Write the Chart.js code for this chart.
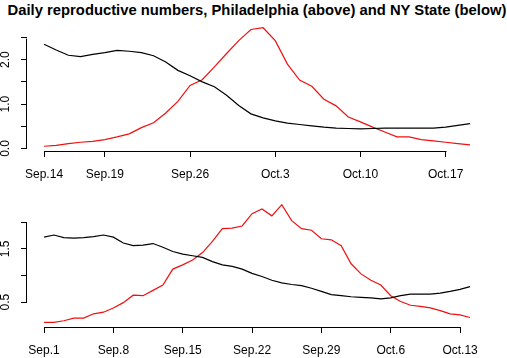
<!DOCTYPE html>
<html>
<head>
<meta charset="utf-8">
<script src="https://cdn.jsdelivr.net/npm/chart.js@4.4.1/dist/chart.umd.min.js"></script>
<style>
body{margin:0;background:#fff;width:507px;height:358px;overflow:hidden;position:relative;font-family:"Liberation Sans",Arial,sans-serif;}
#title{position:absolute;left:0;width:514px;top:2px;text-align:center;font-weight:bold;font-size:14.8px;color:#000;white-space:nowrap;}
canvas{position:absolute;left:0;}
#top{top:0;}
#bottom{top:180px;}
</style>
</head>
<body>
<div id="title">Daily reproductive numbers, Philadelphia (above) and NY State (below)</div>
<canvas id="top" width="507" height="195"></canvas>
<canvas id="bottom" width="507" height="178"></canvas>
<script>
// Philadelphia, daily from Sep.14
var phillyR1 = [2.35,2.22,2.10,2.07,2.12,2.16,2.21,2.19,2.16,2.09,1.95,1.76,1.64,1.50,1.39,1.20,0.97,0.78,0.69,0.62,0.57,0.54,0.51,0.48,0.46,0.45,0.44,0.45,0.46,0.46,0.46,0.46,0.46,0.48,0.52,0.56];
var phillyR2 = [0.05,0.07,0.11,0.14,0.16,0.20,0.26,0.33,0.47,0.58,0.80,1.06,1.42,1.55,1.84,2.14,2.43,2.68,2.72,2.43,1.90,1.54,1.40,1.11,0.96,0.71,0.60,0.48,0.37,0.26,0.26,0.20,0.17,0.14,0.11,0.08];
var phillyTickDays = [0,5,12,19,26,33];
var phillyTickLabels = ['Sep.14','Sep.19','Sep.26','Oct.3','Oct.10','Oct.17'];
var phillyYTicks = [0,0.5,1,1.5,2,2.5];
var phillyYLabels = ['0.0','','1.0','','2.0',''];

// NY State, daily from Sep.1
var nyR1 = [1.72,1.76,1.71,1.70,1.71,1.73,1.76,1.72,1.61,1.56,1.57,1.60,1.53,1.45,1.40,1.37,1.34,1.26,1.20,1.17,1.12,1.04,0.98,0.91,0.86,0.83,0.81,0.76,0.70,0.64,0.62,0.60,0.59,0.58,0.56,0.58,0.62,0.65,0.65,0.65,0.67,0.70,0.74,0.79];
var nyR2 = [0.12,0.12,0.15,0.20,0.20,0.28,0.31,0.39,0.49,0.63,0.62,0.72,0.82,1.12,1.20,1.29,1.43,1.64,1.88,1.89,1.93,2.16,2.25,2.12,2.33,2.03,1.88,1.85,1.69,1.67,1.56,1.22,1.03,0.91,0.82,0.62,0.51,0.44,0.42,0.39,0.34,0.28,0.26,0.21];
var nyTickDays = [0,7,14,21,28,35,42];
var nyTickLabels = ['Sep.1','Sep.8','Sep.15','Sep.22','Sep.29','Oct.6','Oct.13'];
var nyYTicks = [0.5,1,1.5,2];
var nyYLabels = ['0.5','','1.5',''];

const tickFont = {family:'"Liberation Sans", Arial, sans-serif', size:12};

const toPoints = (arr) => arr.map((v,i) => ({x:i, y:v}));

// R style axes: line only from first to last tick
const axisSpan = {
id:'axisSpan',
afterDraw(chart){
const ctx = chart.ctx;
const xs = chart.scales.x, ys = chart.scales.y;
const xt = xs.ticks, yt = ys.ticks;
ctx.save();
ctx.strokeStyle = '#000';
ctx.lineWidth = 1;
ctx.beginPath();
var yb = Math.round(chart.chartArea.bottom) + 0.5;
ctx.moveTo(Math.round(xs.getPixelForValue(xt[0].value)) + 0.5, yb);
ctx.lineTo(Math.round(xs.getPixelForValue(xt[xt.length-1].value)) + 0.5, yb);
var xl = Math.round(chart.chartArea.left) - 0.5;
ctx.moveTo(xl, Math.round(ys.getPixelForValue(yt[0].value)) + 0.5);
ctx.lineTo(xl, Math.round(ys.getPixelForValue(yt[yt.length-1].value)) + 0.5);
ctx.stroke();
ctx.restore();
}
};

const makePanel = (id, r1, r2, xTicks, xLabels, yTicks, yLabels, xr, yr, padTop, xHeight) => {
new Chart(document.getElementById(id), {
type:'line',
data:{
datasets:[
{data:toPoints(r1), borderColor:'#000', borderWidth:1.2, pointRadius:0, tension:0},
{data:toPoints(r2), borderColor:'#f01010', borderWidth:1.2, pointRadius:0, tension:0}
]
},
options:{
responsive:false,
animation:false,
devicePixelRatio:1,
layout:{padding:{top:padTop, right:20, left:0, bottom:0}},
plugins:{legend:{display:false}, tooltip:{enabled:false}, title:{display:false}},
scales:{
x:{
type:'linear', min:xr[0], max:xr[1],
afterBuildTicks:(s) => { s.ticks = xTicks.map(v => ({value:v})); },
afterFit:(s) => { s.height = xHeight; },
grid:{display:true, drawOnChartArea:false, drawTicks:true, tickLength:6, color:'#000', lineWidth:1},
border:{display:false},
ticks:{autoSkip:false, maxRotation:0, color:'#000', font:tickFont, padding:10,
callback:(v,i) => xLabels[i]}
},
y:{
min:yr[0], max:yr[1],
afterBuildTicks:(s) => { s.ticks = yTicks.map(v => ({value:v})); },
afterFit:(s) => { s.width = 27; },
grid:{display:true, drawOnChartArea:false, drawTicks:true, tickLength:6, color:'#000', lineWidth:1},
border:{display:false},
ticks:{autoSkip:false, minRotation:90, maxRotation:90, crossAlign:'center', color:'#000', font:tickFont, padding:7,
callback:(v,i) => yLabels[i]}
}
}
},
plugins:[axisSpan]
});
};

makePanel('top', phillyR1, phillyR2, phillyTickDays, phillyTickLabels, phillyYTicks, phillyYLabels, [-1.4,36.4], [-0.057,2.827], 23, 44);
makePanel('bottom', nyR1, nyR2, nyTickDays, nyTickLabels, nyYTicks, nyYLabels, [-1.72,44.72], [0.032,2.418], 20, 31);
</script>
</body>
</html>
